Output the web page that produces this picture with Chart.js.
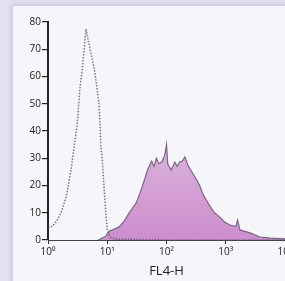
<!DOCTYPE html>
<html>
<head>
<meta charset="utf-8">
<script src="https://cdn.jsdelivr.net/npm/chart.js@4"></script>
<style>
  html, body { margin: 0; padding: 0; overflow: hidden; background: #e4e4f1; }
  body { width: 285px; height: 281px; position: relative; }
  #panel {
    position: absolute; left: 13px; top: 6px; width: 300px; height: 300px;
    background: #f6f6fa; box-shadow: 0 0 6px 2px rgba(150, 150, 200, 0.4);
  }
  #wrap { position: absolute; left: 0; top: 0; width: 310px; height: 281px; }
</style>
</head>
<body>
<div id="panel"></div>
<div id="wrap"><canvas id="chart"></canvas></div>
<script>
// x values are log10 of FL4-H intensity
const ctrlX = [0.00, 0.07, 0.15, 0.22, 0.31, 0.39, 0.44, 0.49, 0.52, 0.54, 0.58, 0.61, 0.64,
               0.70, 0.75, 0.78, 0.82, 0.86, 0.88, 0.89, 0.92, 0.95, 0.98, 1.00, 1.05, 1.15, 1.5, 2.0, 3.0, 4.0];
const ctrlY = [4.5, 5, 7, 10, 16, 26, 34, 42, 50, 56, 63, 70, 77.5,
               71, 66, 63, 57, 50, 42, 35, 28, 18, 8.5, 3.7, 1, 0.3, 0.2, 0, 0, 0];

const posX = [0.85, 0.98, 1.03, 1.12, 1.20, 1.29, 1.37, 1.49, 1.59, 1.68, 1.75, 1.79, 1.83, 1.87, 1.92, 1.97, 2.00,
              2.02, 2.08, 2.14, 2.18, 2.22, 2.27, 2.31, 2.36, 2.44, 2.51, 2.56, 2.61, 2.73, 2.81,
              2.90, 2.98, 3.07, 3.17, 3.20, 3.24, 3.41, 3.58, 3.75, 4.00];
const posY = [0, 1.5, 3.2, 4, 4.8, 7, 10, 13.6, 19.5, 25.7, 29, 27, 30, 28, 28.6, 31, 35,
              28, 25.7, 28.6, 27, 28.6, 29, 30.5, 27.5, 24.6, 22, 20, 17, 12.5, 10,
              8.4, 6.6, 5.5, 5, 7.3, 3.7, 2.6, 1.1, 0.7, 0.4];

const xTickLabels = ['10⁰', '10¹', '10²', '10³', '10⁴'];
const yTicks = [0, 10, 20, 30, 40, 50, 60, 70, 80];

const toPoints = (xs, ys) => xs.map((x, i) => ({ x: x, y: ys[i] }));

const chart = document.getElementById('chart');

const purpleFill = (context) => {
    const area = context.chart.chartArea;
    if (!area) return '#d3a0d4';
    const g = context.chart.ctx.createLinearGradient(0, area.bottom - 100, 0, area.bottom);
    g.addColorStop(0, '#ddb3de');
    g.addColorStop(1, '#cc8dcd');
    return g;
};

new Chart(chart, {
    type: 'scatter',
    data: {
        datasets: [{
            label: 'control',
            data: toPoints(ctrlX, ctrlY),
            showLine: true,
            borderColor: 'rgba(80, 80, 80, 0.75)',
            borderWidth: 1.5,
            borderDash: [1.5, 1.5],
            pointRadius: 0,
            fill: false,
            tension: 0
        }, {
            label: 'FL4-H',
            data: toPoints(posX, posY),
            showLine: true,
            borderColor: '#7e6288',
            borderWidth: 1.2,
            backgroundColor: purpleFill,
            pointRadius: 0,
            fill: 'origin',
            tension: 0
        }]
    },
    options: {
        responsive: true,
        maintainAspectRatio: false,
        animation: false,
        layout: { padding: { left: 0, top: 22, right: 25, bottom: 0 } },
        plugins: { legend: { display: false }, tooltip: { enabled: false } },
        scales: {
            x: {
                type: 'linear',
                min: 0,
                max: 4,
                afterFit: (scale) => { scale.height = 41; },
                afterBuildTicks: (scale) => { scale.ticks = xTickLabels.map((l, i) => ({ value: i })); },
                ticks: {
                    callback: (v) => xTickLabels[v],
                    color: '#222',
                    font: { family: 'Open Sans', size: 10 },
                    padding: 2,
                    maxRotation: 0
                },
                grid: { drawOnChartArea: false, tickLength: 4, color: '#333' },
                border: { color: '#444', width: 1 },
                title: {
                    display: true,
                    text: 'FL4-H',
                    color: '#222',
                    font: { family: 'Open Sans', size: 13 },
                    padding: { top: 0, bottom: 2 }
                }
            },
            y: {
                min: 0,
                max: 80,
                afterFit: (scale) => { scale.width = 48; },
                afterBuildTicks: (scale) => { scale.ticks = yTicks.map((v) => ({ value: v })); },
                ticks: {
                    color: '#222',
                    font: { family: 'Open Sans', size: 10 },
                    padding: 1
                },
                grid: { drawOnChartArea: false, tickLength: 6, color: '#222', lineWidth: 1.2 },
                border: { color: '#222', width: 2 }
            }
        }
    }
});
</script>
</body>
</html>
